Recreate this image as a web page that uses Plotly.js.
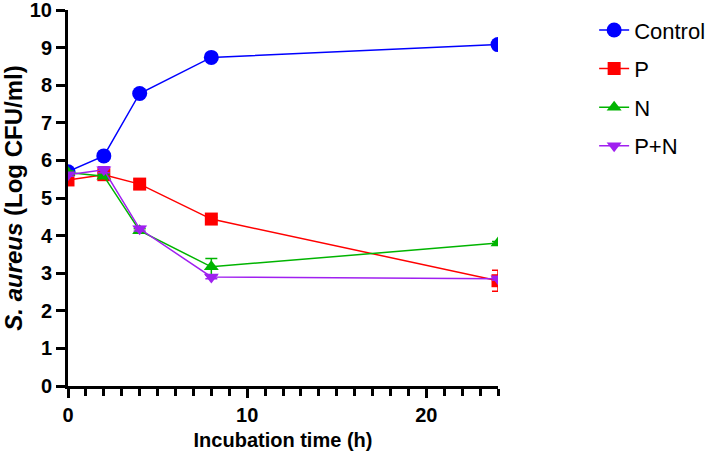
<!DOCTYPE html>
<html>
<head>
<meta charset="utf-8">
<script src="https://cdn.plot.ly/plotly-3.0.1.min.js"></script>
<style>html,body{margin:0;padding:0;background:#fff;}#chart{width:709px;height:461px;}</style>
</head>
<body>
<div id="chart"></div>
<script>
var hours = [0, 2, 4, 8, 24];
var seriesNames = ["Control", "P", "N", "P+N"];
var controlVals = [5.70, 6.12, 7.78, 8.74, 9.08];
var controlErr = [0.05, 0.05, 0.05, 0.04, 0.04];
var pVals = [5.48, 5.62, 5.37, 4.44, 2.80];
var pErr = [0.08, 0.06, 0.13, 0.05, 0.28];
var nVals = [5.68, 5.58, 4.13, 3.17, 3.80];
var nErr = [0.04, 0.05, 0.05, 0.22, 0.04];
var pnVals = [5.62, 5.75, 4.18, 2.90, 2.85];
var pnErr = [0.04, 0.08, 0.06, 0.05, 0.04];
var xTicks = [0, 10, 20];
var yTicks = [0, 1, 2, 3, 4, 5, 6, 7, 8, 9, 10];

var colors = ["#0000FF", "#FF0000", "#00B400", "#A020F0"];
var symbols = ["circle", "square", "triangle-up", "triangle-down"];
var vals = [controlVals, pVals, nVals, pnVals];
var errs = [controlErr, pErr, nErr, pnErr];

var traces = seriesNames.map(function (name, i) {
  return {
    x: hours, y: vals[i], name: name, type: "scatter", mode: "lines+markers",
    legendgroup: "g" + i,
    line: {color: colors[i], width: 1.5},
    marker: {color: colors[i], symbol: symbols[i], size: i === 0 ? 15 : 13},
    error_y: {type: "data", array: errs[i], visible: true, color: colors[i], thickness: 1.5, width: 6}
  };
});

var minorX = [];
for (var h = 1; h <= 24; h++) { if (xTicks.indexOf(h) < 0) minorX.push(h); }

var fam = "Liberation Sans, Arial, sans-serif";
var layout = {
  width: 709, height: 461,
  margin: {l: 68, r: 211, t: 10, b: 75},
  paper_bgcolor: "#fff", plot_bgcolor: "#fff",
  font: {family: fam, color: "#000"},
  showlegend: true,
  legend: {xref: "container", yref: "container", x: 0.838, xanchor: "left", y: 0.98, yanchor: "top",
    traceorder: "grouped", tracegroupgap: 7, font: {size: 22, color: "#000"}, bgcolor: "rgba(0,0,0,0)"},
  xaxis: {
    range: [0, 24], showgrid: false, zeroline: false, showline: true,
    linecolor: "#000", linewidth: 3, ticks: "outside", ticklen: 9, tickwidth: 3, tickcolor: "#000",
    tickmode: "array", tickvals: xTicks, ticktext: xTicks.map(function (v) { return "<b>" + v + "</b>"; }),
    tickfont: {size: 20, family: fam}, ticklabeloverflow: "allow",
    minor: {tickvals: minorX, ticks: "outside", ticklen: 7, tickwidth: 3, tickcolor: "#000"},
    title: {text: "<b>Incubation time (h)</b>", font: {size: 20}, standoff: 8}
  },
  yaxis: {
    range: [0, 10], showgrid: false, zeroline: false, showline: true,
    linecolor: "#000", linewidth: 3, ticks: "outside", ticklen: 9, tickwidth: 3, tickcolor: "#000",
    tickmode: "array", tickvals: yTicks, ticktext: yTicks.map(function (v) { return "<b>" + v + "</b>"; }),
    tickfont: {size: 20, family: fam}, ticklabeloverflow: "allow",
    title: {text: "<b><i>S. aureus</i> (Log CFU/ml)</b>", font: {size: 24}, standoff: 8}
  }
};

Plotly.newPlot("chart", traces, layout, {displayModeBar: false, staticPlot: true});
</script>
</body>
</html>
